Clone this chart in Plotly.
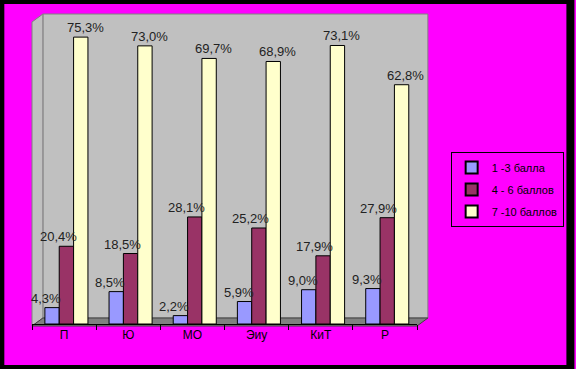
import plotly.graph_objects as go

categories = ["П", "Ю", "МО", "Эиу", "КиТ", "Р"]
series_names = ["1 -3 балла", "4 - 6 баллов", "7 -10 баллов"]
low = [4.3, 8.5, 2.2, 5.9, 9.0, 9.3]
mid = [20.4, 18.5, 28.1, 25.2, 17.9, 27.9]
high = [75.3, 73.0, 69.7, 68.9, 73.1, 62.8]
colors = ["#9999FF", "#993366", "#FFFFCC"]

W, H = 576, 369
L, R, T, B = 32, 155, 14, 45
pw, ph = W - L - R, H - T - B
cat_px = pw / len(categories)

def px(x):
    return (x - L) / pw

def py(y):
    return (H - B - y) / ph

# bar geometry (style): left edge offsets and width in category units
bar_w = 14.5 / cat_px
bar_off = [-19.4 / cat_px, -4.9 / cat_px, 9.6 / cat_px]
label_shift = [-18, -6, 21]

fig = go.Figure()
annotations = []
for i, (name, vals, c) in enumerate(zip(series_names, [low, mid, high], colors)):
    fig.add_trace(go.Bar(
        x=categories, y=vals, name=name,
        width=bar_w, offset=bar_off[i],
        marker=dict(color=c, line=dict(color="black", width=1)),
        legendgroup=name,
    ))
    for cat, v in zip(categories, vals):
        annotations.append(dict(
            x=cat, y=v, xref="x", yref="y", text=f"{v:.1f}%".replace(".", ","),
            showarrow=False, yanchor="bottom", xanchor="center",
            xshift=label_shift[i], yshift=0,
            font=dict(family="Liberation Sans, Arial", size=13, color="#222"),
        ))

shapes = []
# back wall
shapes.append(dict(type="rect", xref="paper", yref="paper",
                   x0=px(43), x1=px(432), y0=py(318), y1=py(14),
                   fillcolor="#C0C0C0", line=dict(color="#808080", width=1), layer="below"))
# left side wall
shapes.append(dict(type="path", xref="paper", yref="paper",
                   path=f"M {px(32)} {py(22)} L {px(43)} {py(14)} L {px(43)} {py(318)} L {px(32)} {py(326)} Z",
                   fillcolor="#C0C0C0", line=dict(color="#808080", width=1), layer="below"))
# floor
shapes.append(dict(type="path", xref="paper", yref="paper",
                   path=f"M {px(32)} {py(326)} L {px(43)} {py(318)} L {px(432)} {py(318)} L {px(421)} {py(326)} Z",
                   fillcolor="#808080", line=dict(color="#404040", width=1), layer="below"))
# outer black frame
shapes.append(dict(type="rect", xref="paper", yref="paper",
                   x0=px(0), x1=px(W), y0=py(H), y1=py(0),
                   fillcolor="rgba(0,0,0,0)", line=dict(color="black", width=8), layer="above"))

fig.update_layout(
    width=W, height=H,
    margin=dict(l=L, r=R, t=T, b=B),
    paper_bgcolor="#FF00FF", plot_bgcolor="rgba(0,0,0,0)",
    barmode="overlay",
    font=dict(family="Liberation Sans, Arial", size=12, color="black"),
    showlegend=True,
    legend=dict(x=px(455), y=py(152), xanchor="left", yanchor="top",
                bgcolor="#FF00FF", bordercolor="black", borderwidth=1,
                font=dict(size=11, color="black"), tracegroupgap=3,
                itemsizing="constant"),
    xaxis=dict(range=[-0.5, len(categories) - 0.5], showline=True, linecolor="black", linewidth=1,
               ticks="outside", tickson="boundaries", ticklen=5, tickcolor="black",
               tickfont=dict(size=12, color="black"), showgrid=False),
    yaxis=dict(range=[0, ph / 3.81], visible=False, showgrid=False, zeroline=False),
    shapes=shapes,
    annotations=annotations,
)

fig.write_html("out.html", config={"displayModeBar": False},
               post_script="document.body.style.margin='0';document.body.style.background='black';")
